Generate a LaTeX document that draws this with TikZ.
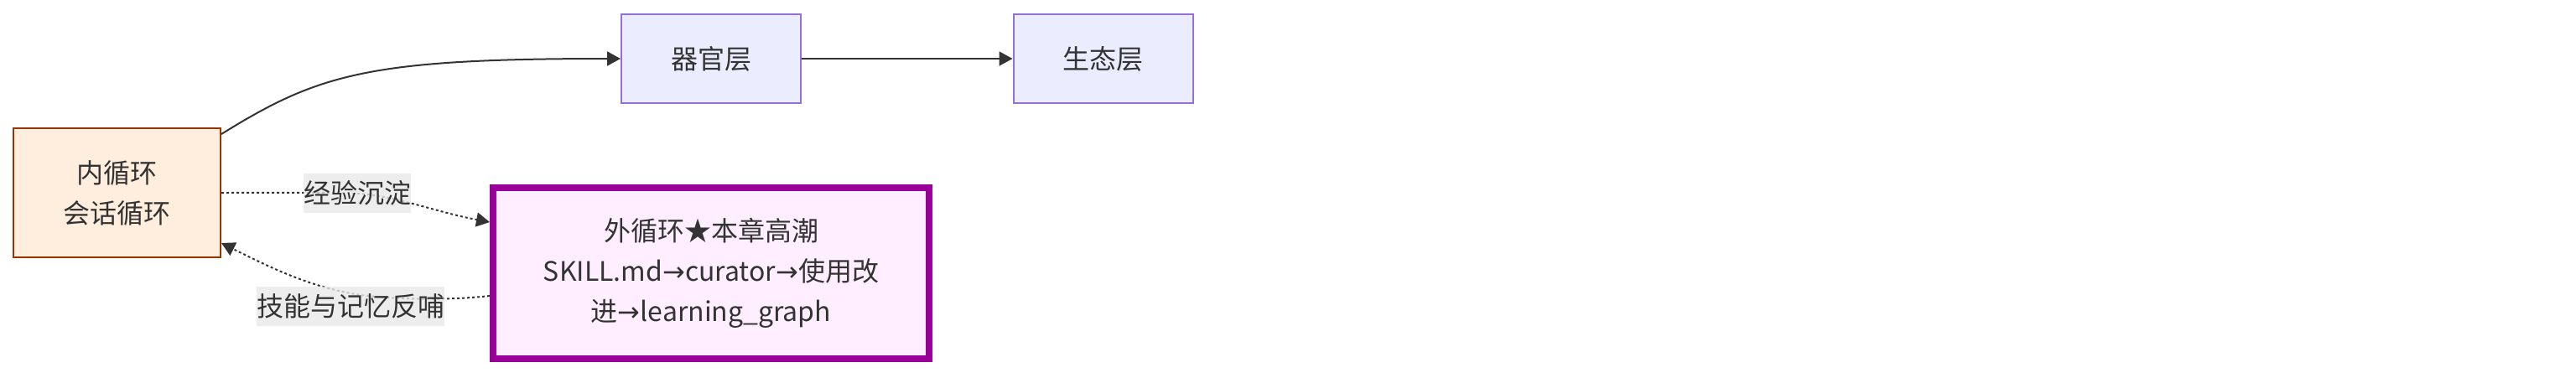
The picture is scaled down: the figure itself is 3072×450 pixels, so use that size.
\documentclass[tikz,border=0pt]{standalone}
\usepackage{fontspec}
\newfontfamily\cjkfont{Noto Sans CJK SC}
\newfontfamily\arrfont{DejaVu Sans}
\usetikzlibrary{arrows.meta}
\definecolor{txtc}{HTML}{333333}
\definecolor{innerfill}{HTML}{FFEEDD}
\definecolor{innerline}{HTML}{993300}
\definecolor{layerfill}{HTML}{ECECFF}
\definecolor{layerline}{HTML}{9370DB}
\definecolor{outerfill}{HTML}{FFEEFF}
\definecolor{outerline}{HTML}{990099}
\definecolor{labfill}{HTML}{E8E8E8}
\newcommand{\myarrow}{{\arrfont →}}
\begin{document}
\begin{tikzpicture}[x=1pt,y=-1pt,
  box/.style={draw, rectangle, align=center, inner sep=0pt, text=txtc,
    font=\cjkfont\fontsize{32}{48}\selectfont},
  innerbox/.style={box, fill=innerfill, draw=innerline, line width=2pt,
    minimum width=247pt, minimum height=154pt},
  layerbox/.style={box, fill=layerfill, draw=layerline, line width=2pt,
    minimum width=214pt, minimum height=106pt},
  outerbox/.style={box, fill=outerfill, draw=outerline, line width=8pt,
    minimum width=520pt, minimum height=204pt},
  edgelab/.style={rectangle, inner sep=0pt, fill=labfill, fill opacity=0.8,
    text opacity=1, text=txtc, minimum height=47pt,
    font=\cjkfont\fontsize{32}{48}\selectfont},
  link/.style={draw=txtc, line width=2pt,
    -{Triangle[length=16pt,width=17pt]}},
  dotlink/.style={link, dash pattern=on 3pt off 3pt}
]
\useasboundingbox (0,0) rectangle (3072,450);

\node[innerbox] (inner) at (139.5,230) {内循环\\会话循环};
\node[layerbox] (organ) at (848,70) {器官层};
\node[layerbox] (eco) at (1315.5,70) {生态层};
\node[outerbox] (outer) at (848,326)
  {外循环★本章高潮\\SKILL.md\myarrow curator\myarrow 使用改\\进\myarrow learning\_graph};

\draw[link] ([yshift=-8pt]inner.north east)
  .. controls (380,88) and (440,70) .. (organ.west);
\draw[link] (organ.east) -- (eco.west);

\draw[dotlink] (inner.east) .. controls (330,230) and (380,229) .. (426,231)
  .. controls (470,233) and (520,253) .. ([yshift=61pt]outer.west);
\draw[dotlink] ([yshift=-27pt]outer.west) .. controls (540,358) and (480,358) .. (430,352)
  .. controls (370,343) and (320,318) .. ([yshift=18pt]inner.south east);

\node[edgelab] (l1) at (426,230) {经验沉淀};
\node[edgelab] (l2) at (418,365) {技能与记忆反哺};
\end{tikzpicture}
\end{document}
